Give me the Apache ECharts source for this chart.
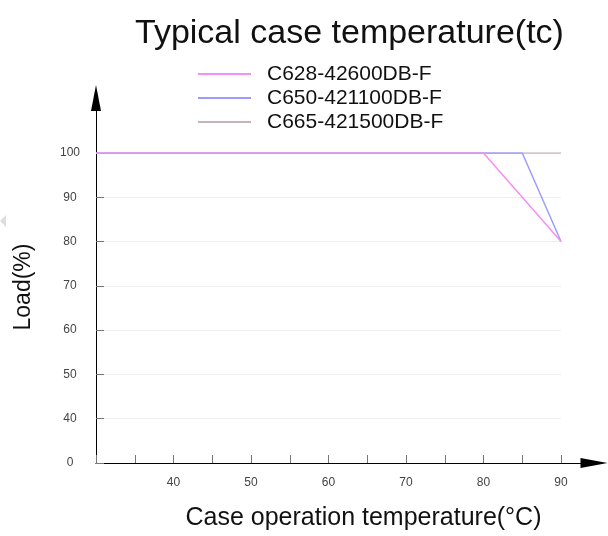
<!DOCTYPE html>
<html>
<head>
<meta charset="utf-8">
<script src="https://cdn.jsdelivr.net/npm/echarts@6/dist/echarts.min.js"></script>
<style>html,body{margin:0;padding:0;background:#fff}#c{width:608px;height:536px}</style>
</head>
<body>
<div id="c"></div>
<script>
var seriesNames = ['C628-42600DB-F', 'C650-421100DB-F', 'C665-421500DB-F'];
var tempC628 = [30, 80, 90];
var loadC628 = [100, 100, 80];
var tempC650 = [30, 85, 90];
var loadC650 = [100, 100, 80];
var tempC665 = [30, 90];
var loadC665 = [100, 100];
var xTicks = [40, 50, 60, 70, 80, 90];
var yTickLabels = {30: '0', 40: '40', 50: '50', 60: '60', 70: '70', 80: '80', 90: '90', 100: '100'};

function pairs(xs, ys) { return xs.map(function (x, i) { return [x, ys[i]]; }); }

var font = 'Liberation Sans, Arial, sans-serif';
var chart = echarts.init(document.getElementById('c'), null, {renderer: 'canvas'});
chart.setOption({
  animation: false,
  backgroundColor: '#fff',
  textStyle: {fontFamily: font},
  title: {
    text: 'Typical case temperature(tc)',
    left: 130, top: 12,
    textStyle: {fontSize: 34, fontWeight: 'normal', color: '#111', fontFamily: font}
  },
  legend: {
    orient: 'vertical', left: 192, top: 57, itemGap: 0,
    itemWidth: 53, itemHeight: 18,
    data: seriesNames,
    itemStyle: {opacity: 0},
    textStyle: {fontSize: 21, color: '#111', padding: [0, 0, 0, 11], lineHeight: 24, fontFamily: font}
  },
  graphic: [{
    type: 'polygon', shape: {points: [[0, 221], [6, 215], [6, 227]]},
    style: {fill: '#ddd'}
  }],
  grid: [
    {left: 96, right: 47, top: 153, bottom: 73},
    {left: 96, right: 14, top: 98, bottom: 73}
  ],
  xAxis: [{
    type: 'value', gridIndex: 0, min: 30, max: 90, interval: 5,
    name: 'Case operation temperature(°C)', nameLocation: 'middle', nameGap: 43,
    nameTextStyle: {fontSize: 25, color: '#111', fontFamily: font, padding: [0, 0, 0, 70]},
    axisLine: {lineStyle: {color: '#888'}},
    axisTick: {inside: true, length: 8, lineStyle: {color: '#777'}},
    axisLabel: {margin: 14, fontSize: 12, color: '#444', formatter: function (v) { return xTicks.indexOf(v) >= 0 ? String(v) : ''; }},
    splitLine: {show: false}
  }, {
    type: 'value', gridIndex: 1, min: 0, max: 1,
    axisLine: {lineStyle: {color: '#000'}, symbol: ['none', 'triangle'], symbolSize: [10, 27]},
    axisTick: {show: false}, axisLabel: {show: false}, splitLine: {show: false}
  }],
  yAxis: [{
    type: 'value', gridIndex: 0, min: 30, max: 100, interval: 10,
    axisLine: {show: true, lineStyle: {color: '#888'}},
    axisTick: {show: true, inside: true, length: 8, lineStyle: {color: '#777'}},
    axisLabel: {margin: 26, align: 'center', fontSize: 12, color: '#444', formatter: function (v) { return yTickLabels[v]; }},
    splitLine: {show: true, lineStyle: {color: '#eee'}}
  }, {
    type: 'value', gridIndex: 1, min: 0, max: 1,
    name: 'Load(%)', nameLocation: 'middle', nameGap: 61,
    nameTextStyle: {fontSize: 23, color: '#111', fontFamily: font, padding: [0, 13, 0, 0]},
    axisLine: {show: true, lineStyle: {color: '#000'}, symbol: ['none', 'triangle'], symbolSize: [10, 26]},
    axisTick: {show: false}, axisLabel: {show: false}, splitLine: {show: false}
  }],
  series: [{
    name: seriesNames[2], type: 'line', xAxisIndex: 0, yAxisIndex: 0, symbol: 'none',
    data: pairs(tempC665, loadC665), lineStyle: {color: '#c8b4b8', width: 1.5}, itemStyle: {color: '#c8b4b8'}, z: 3
  }, {
    name: seriesNames[1], type: 'line', xAxisIndex: 0, yAxisIndex: 0, symbol: 'none',
    data: pairs(tempC650, loadC650), lineStyle: {color: '#9c9cff', width: 1.5}, itemStyle: {color: '#9c9cff'}, z: 4
  }, {
    name: seriesNames[0], type: 'line', xAxisIndex: 0, yAxisIndex: 0, symbol: 'none',
    data: pairs(tempC628, loadC628), lineStyle: {color: '#f88cf8', width: 1.5}, itemStyle: {color: '#f88cf8'}, z: 5
  }]
});
</script>
</body>
</html>
